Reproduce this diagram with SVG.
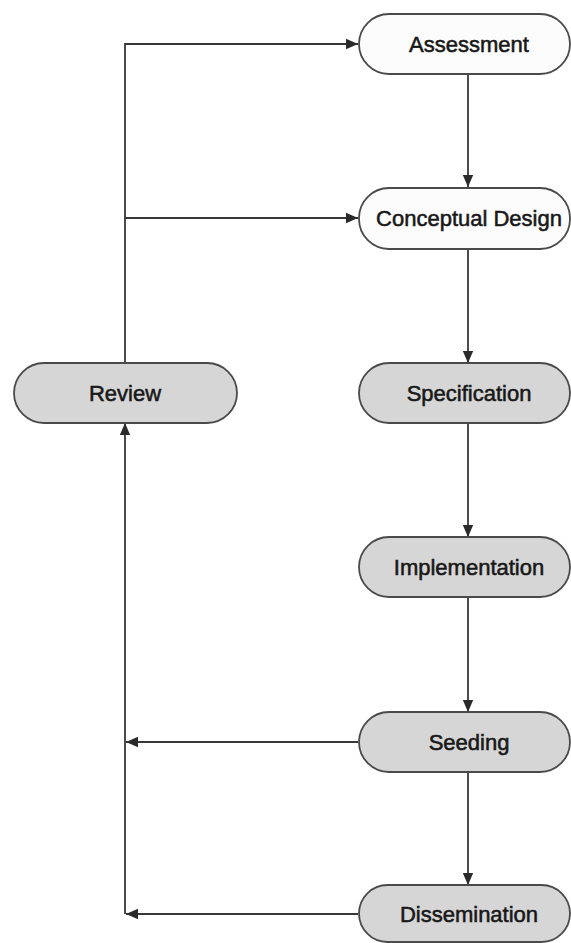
<svg xmlns="http://www.w3.org/2000/svg" width="571" height="943" viewBox="0 0 571 943">
  <style>
    .node rect { stroke: #4a4a4a; stroke-width: 1.8; }
    .light rect { fill: #fcfcfc; }
    .shaded rect { fill: #d6d6d6; }
    .node text { font-family: "Liberation Sans", Arial, sans-serif; font-size: 22px; fill: #181818; stroke: #181818; stroke-width: 0.55; text-anchor: middle; dominant-baseline: central; }
    .edge { fill: none; stroke: #383838; stroke-width: 1.8; }
  </style>
  <defs>
    <marker id="arrow" viewBox="0 0 12 12" refX="12" refY="6" markerWidth="12" markerHeight="12" markerUnits="userSpaceOnUse" orient="auto">
      <path d="M0,0.8 L12,6 L0,11.2 z" fill="#2a2a2a"/>
    </marker>
  </defs>
  <rect width="571" height="943" fill="#ffffff"/>

  <!-- connectors -->
  <g id="connectors">
    <!-- main sequence -->
    <line class="edge" x1="468" y1="74" x2="468" y2="187" marker-end="url(#arrow)"/>
    <line class="edge" x1="468" y1="249" x2="468" y2="363" marker-end="url(#arrow)"/>
    <line class="edge" x1="468" y1="423" x2="468" y2="537" marker-end="url(#arrow)"/>
    <line class="edge" x1="468" y1="597" x2="468" y2="712" marker-end="url(#arrow)"/>
    <line class="edge" x1="468" y1="772" x2="468" y2="885" marker-end="url(#arrow)"/>
    <!-- review loop back to the start -->
    <polyline class="edge" points="125,363 125,44 358,44" marker-end="url(#arrow)"/>
    <line class="edge" x1="125" y1="218" x2="358" y2="218" marker-end="url(#arrow)"/>
    <!-- feedback into review -->
    <line class="edge" x1="125" y1="914" x2="125" y2="423" marker-end="url(#arrow)"/>
    <line class="edge" x1="358" y1="742" x2="126" y2="742" marker-end="url(#arrow)"/>
    <line class="edge" x1="358" y1="914" x2="126" y2="914" marker-end="url(#arrow)"/>
  </g>

  <!-- nodes -->
  <g id="assessment" class="node light">
    <rect x="359" y="14" width="211" height="60" rx="30"/>
    <text x="469" y="44">Assessment</text>
  </g>
  <g id="conceptual-design" class="node light">
    <rect x="359" y="188" width="211" height="61" rx="30"/>
    <text x="469" y="218">Conceptual Design</text>
  </g>
  <g id="review" class="node shaded">
    <rect x="14" y="363" width="223" height="60" rx="30"/>
    <text x="125" y="393">Review</text>
  </g>
  <g id="specification" class="node shaded">
    <rect x="359" y="363" width="211" height="60" rx="30"/>
    <text x="469" y="393">Specification</text>
  </g>
  <g id="implementation" class="node shaded">
    <rect x="359" y="537" width="211" height="60" rx="30"/>
    <text x="469" y="567">Implementation</text>
  </g>
  <g id="seeding" class="node shaded">
    <rect x="359" y="712" width="211" height="60" rx="30"/>
    <text x="469" y="742">Seeding</text>
  </g>
  <g id="dissemination" class="node shaded">
    <rect x="359" y="885" width="211" height="57" rx="28.5"/>
    <text x="469" y="914">Dissemination</text>
  </g>
</svg>
